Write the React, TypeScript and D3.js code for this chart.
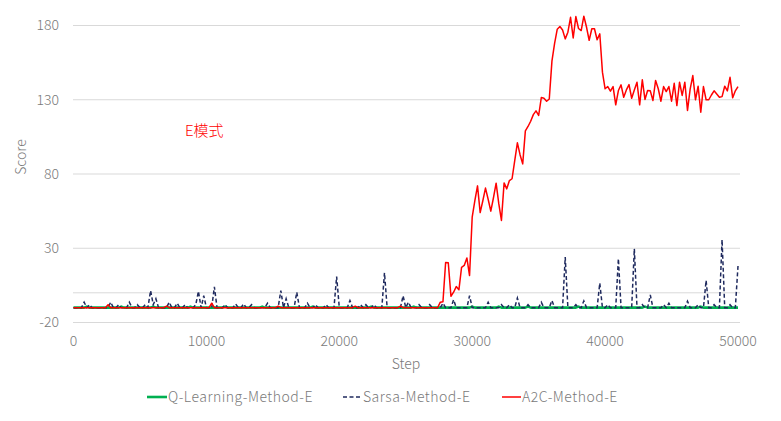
import React from "react";
import * as d3 from "d3";

const STEP_INTERVAL = 200;
const xTicks = [0, 10000, 20000, 30000, 40000, 50000];
const yTicks = [-20, 30, 80, 130, 180];
const seriesNames = ["Q-Learning-Method-E", "Sarsa-Method-E", "A2C-Method-E"];

const qLearning = [
  -10,-10,-10,-10,-10,-9.3,-10,-10,-10,-10,
  -10,-10,-10,-10,-10,-10,-10,-10,-9.3,-10,
  -10,-10,-10,-10,-10,-10,-10,-10,-10,-10,
  -9.3,-10,-10,-10,-10,-10,-10,-10,-10,-10,
  -10,-10,-10,-10,-9.3,-10,-10,-10,-10,-10,
  -10,-10,-10,-10,-10,-10,-10,-9.3,-10,-10,
  -10,-10,-10,-10,-10,-10,-10,-10,-10,-10,
  -10,-9.3,-10,-10,-10,-10,-10,-10,-10,-10,
  -10,-10,-10,-10,-10,-10,-10,-10,-10,-10,
  -9.3,-10,-10,-10,-10,-10,-10,-10,-10,-10,
  -10,-10,-10,-10,-10,-10,-10,-10,-10,-10,
  -10,-10,-9.3,-10,-10,-10,-10,-10,-10,-10,
  -10,-10,-10,-10,-10,-10,-10,-10,-9.3,-10,
  -10,-10,-10,-10,-10,-10,-10,-10,-10,-10,
  -10,-10,-10,-10,-10,-10,-10,-10,-10,-10,
  -9.3,-10,-10,-10,-10,-10,-10,-10,-10,-10,
  -9.3,-10,-10,-10,-10,-10,-10,-10,-10,-10,
  -10,-9.3,-10,-10,-10,-10,-10,-10,-10,-10,
  -10,-10,-10,-10,-10,-10,-10,-10,-10,-10,
  -9.3,-10,-10,-10,-10,-10,-10,-10,-10,-10,
  -10,-10,-10,-10,-10,-10,-10,-10,-10,-10,
  -10,-10,-10,-10,-10,-9.3,-10,-10,-10,-10,
  -10,-10,-10,-10,-10,-10,-10,-10,-10,-10,
  -10,-10,-10,-10,-10,-10,-9.3,-10,-10,-10,
  -10,-10,-10,-10,-10,-10,-10,-10,-10,-10,
  -10
];

const sarsa = [
  -10,-10,-10,-10,-6.3,-10,-8,-10,-10,-10,
  -10,-10,-10,-10,-6.3,-10,-10,-8,-10,-10,
  -10,-6.3,-10,-10,-8,-10,-10,-8,-10,1.5,
  -8,-4,-10,-10,-10,-10,-6.3,-10,-10,-7,
  -10,-10,-8,-10,-10,-10,-8,1,-10,-2,
  -10,-10,-10,4,-10,-10,-10,-8,-10,-10,
  -10,-7.5,-10,-10,-7.5,-10,-10,-8,-10,-10,
  -10,-10,-10,-7,-10,-10,-10,-10,1.5,-10,
  -4,-10,-10,-10,0.4,-10,-10,-10,-7,-10,
  -10,-8,-10,-10,-10,-8,-10,-10,-10,11,
  -10,-10,-10,-10,-5.2,-10,-10,-10,-8,-10,
  -8,-10,-10,-8,-10,-10,-10,13.5,-10,-10,
  -10,-10,-10,-10,-2,-10,-6.3,-10,-10,-10,
  -8,-10,-10,-10,-8,-10,-10,-10,-10,-7,
  -10,-10,-10,-4.7,-10,-10,-10,-10,-10,-2,
  -10,-10,-10,-10,-10,-10,-6.3,-10,-10,-10,
  -10,-8,-10,-10,-8,-10,-10,-3.5,-10,-10,
  -10,-8,-10,-10,-10,-10,-6.4,-10,-10,-10,
  -5.2,-10,-10,-10,-10,24,-10,-10,-10,-8,
  -10,-10,-5.5,-10,-10,-10,-10,-10,6.5,-10,
  -10,-8,-10,-10,-10,23,-10,-10,-10,-10,
  -10,29.6,-10,-10,-8,-10,-10,-1.5,-10,-10,
  -10,-10,-8,-10,-7,-10,-10,-10,-10,-10,
  -10,-5.7,-10,-10,-10,-8,-10,-10,8.3,-10,
  -10,-8,-10,-10,35.8,-10,-10,-8,-10,-10,
  18
];

const a2c = [
  -10,-10,-10,-10,-10,-10,-10,-10,-10,-10,
  -10,-10,-10,-8,-10,-10,-10,-10,-10,-10,
  -10,-10,-10,-10,-10,-10,-10,-10,-10,-10,
  -10,-10,-10,-10,-10,-9,-10,-10,-10,-10,
  -10,-10,-10,-10,-10,-10,-10,-10,-10,-10,
  -10,-10,-7,-10,-10,-10,-10,-10,-10,-10,
  -10,-10,-10,-10,-10,-10,-10,-10,-10,-10,
  -10,-10,-10,-10,-10,-10,-10,-9,-10,-10,
  -10,-10,-10,-10,-10,-10,-10,-10,-10,-10,
  -10,-10,-10,-10,-10,-10,-10,-10,-10,-10,
  -10,-10,-10,-10,-10,-10,-9,-10,-10,-10,
  -10,-10,-10,-10,-10,-10,-10,-10,-10,-10,
  -10,-10,-10,-9,-10,-10,-10,-10,-10,-10,
  -10,-10,-10,-10,-10,-10,-10,-10,-6.3,-6,
  20.4,20.2,-2.3,0.4,4.2,2,17.2,18.4,23.5,11.6,
  51,62,72,54,62,70.5,63,55,64,73.8,
  60,48.7,74,70,75.6,76.8,89,101,93,86.8,
  109,112,115.5,120,122.5,119.4,131.5,131,129,130.5,
  156,168,177.5,179.3,177,171,175.5,185.5,171.6,186,
  178,176.6,186.3,179,170,177.8,177.8,170.4,174.4,148.6,
  137.4,138.9,135.8,138.9,126.6,136.2,140,131.7,136.6,140.2,
  131,136.6,141.8,126.6,143.4,130.2,136.2,136,129.5,143,
  137.4,129,138.9,135.5,138.9,129,141.1,126.1,141.8,132.9,
  141.8,122.8,137.2,146.3,130,139.1,121.6,138.9,130,130,
  133.2,136,133.9,131.7,132.1,139.1,136,145.1,131.3,136,
  138.9
];

const FONT = "'Noto Sans CJK JP', 'Noto Sans', sans-serif";
const GREEN = "#00B050";
const NAVY = "#1F2A5E";
const RED = "#FF0000";
const TXT = "#7a7a7a";

export default function App() {
  const W = 781, H = 421;
  const x = d3.scaleLinear().domain([0, 50000]).range([73.5, 738]);
  const y = d3.scaleLinear().domain([-20, 180]).range([322.5, 25.5]);

  const line = d3
    .line<number>()
    .x((_, i) => x(i * STEP_INTERVAL))
    .y((d) => y(d));

  return (
    <svg
      width={W}
      height={H}
      style={{ position: "absolute", left: 0, top: 0, background: "#fff" }}
      fontFamily={FONT}
      fontWeight={300}
    >
      <rect width={W} height={H} fill="#fff" />
      {yTicks.map((t) => (
        <line key={"g" + t} x1={73} x2={740} y1={y(t)} y2={y(t)} stroke="#D9D9D9" strokeWidth={1} />
      ))}
      <line x1={73} x2={740} y1={y(0)} y2={y(0)} stroke="#D9D9D9" strokeWidth={1} />
      {yTicks.map((t) => (
        <text key={"yl" + t} x={59} y={y(t)} dy="0.35em" textAnchor="end" fontSize={14} fill={TXT}>
          {t}
        </text>
      ))}
      {xTicks.map((t) => (
        <text key={"xl" + t} x={x(t)} y={341} dy="0.35em" textAnchor="middle" fontSize={14} fill={TXT}>
          {t}
        </text>
      ))}
      <text x={406} y={364} dy="0.35em" textAnchor="middle" fontSize={14} fill={TXT}>
        Step
      </text>
      <text
        transform={`translate(21,${157}) rotate(-90)`}
        dy="0.35em"
        textAnchor="middle"
        fontSize={14}
        fill={TXT}
      >
        Score
      </text>

      <path d={line(qLearning) || ""} fill="none" stroke={GREEN} strokeWidth={2.6} strokeLinejoin="round" />
      <path d={line(sarsa) || ""} fill="none" stroke={NAVY} strokeWidth={1.5} strokeDasharray="4,2.5" />
      <path d={line(a2c) || ""} fill="none" stroke={RED} strokeWidth={1.5} strokeLinejoin="round" />

      <text x={185} y={131} dy="0.35em" fontSize={15} fill={RED}>
        E模式
      </text>

      {/* legend */}
      <line x1={147} x2={167} y1={397} y2={397} stroke={GREEN} strokeWidth={2.6} />
      <text x={168} y={397} dy="0.35em" fontSize={14} letterSpacing={0.5} fill={TXT}>
        {seriesNames[0]}
      </text>
      <line x1={343} x2={362} y1={397} y2={397} stroke={NAVY} strokeWidth={1.5} strokeDasharray="4,2.5" />
      <text x={363} y={397} dy="0.35em" fontSize={14} letterSpacing={0.5} fill={TXT}>
        {seriesNames[1]}
      </text>
      <line x1={502} x2={521} y1={397} y2={397} stroke={RED} strokeWidth={1.5} />
      <text x={522} y={397} dy="0.35em" fontSize={14} letterSpacing={0.5} fill={TXT}>
        {seriesNames[2]}
      </text>
    </svg>
  );
}
